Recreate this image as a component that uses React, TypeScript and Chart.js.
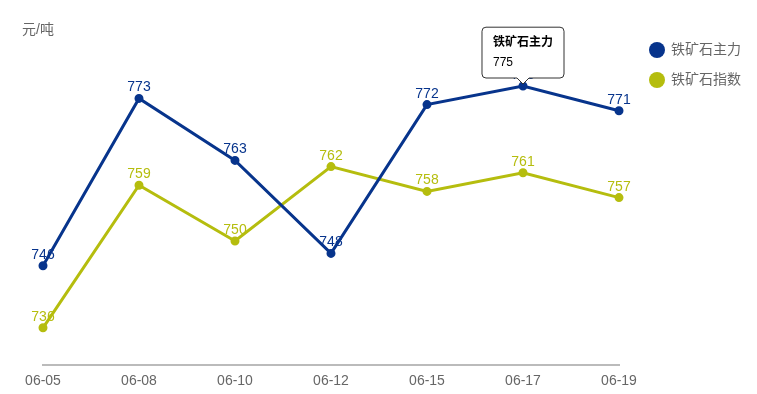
import React, { useEffect, useRef } from "react";
import { Chart, registerables } from "chart.js";

Chart.register(...registerables);

const categories = ["06-05", "06-08", "06-10", "06-12", "06-15", "06-17", "06-19"];
const mainSeries = [746, 773, 763, 748, 772, 775, 771];
const indexSeries = [736, 759, 750, 762, 758, 761, 757];
const seriesNames = ["铁矿石主力", "铁矿石指数"];
const seriesColors = ["#07348c", "#b5bd0e"];
const unitLabel = "元/吨";
const yMin = 730;
const yMax = 780;

const FONT = "'Liberation Sans', Arial, 'Noto Sans CJK SC', sans-serif";

const overlayPlugin = {
  id: "overlay",
  afterDatasetsDraw(chart: any) {
    const ctx = chart.ctx;
    ctx.save();
    chart.data.datasets.forEach((ds: any, di: number) => {
      const meta = chart.getDatasetMeta(di);
      ctx.font = `14px ${FONT}`;
      ctx.fillStyle = ds.borderColor;
      ctx.textAlign = "center";
      ctx.textBaseline = "alphabetic";
      meta.data.forEach((pt: any, i: number) => {
        ctx.fillText(String(ds.data[i]), pt.x, pt.y - 7);
      });
    });
    ctx.font = `14px ${FONT}`;
    ctx.fillStyle = "#666";
    ctx.textAlign = "left";
    ctx.textBaseline = "middle";
    ctx.fillText(unitLabel, 22, 30);
    chart.data.datasets.forEach((ds: any, di: number) => {
      const cy = 50 + di * 30;
      ctx.beginPath();
      ctx.fillStyle = ds.borderColor;
      ctx.arc(657, cy, 8, 0, Math.PI * 2);
      ctx.fill();
      ctx.fillStyle = "#666";
      ctx.font = `14px ${FONT}`;
      ctx.textAlign = "left";
      ctx.textBaseline = "middle";
      ctx.fillText(ds.label, 671, cy);
    });
    ctx.restore();
  },
};

export default function App() {
  const ref = useRef<HTMLCanvasElement | null>(null);
  useEffect(() => {
    document.body.style.margin = "0";
    const canvas = ref.current;
    if (!canvas) return;
    const chart = new Chart(canvas, {
      type: "line",
      data: {
        labels: categories,
        datasets: [
          {
            label: seriesNames[0],
            data: mainSeries,
            borderColor: seriesColors[0],
            backgroundColor: seriesColors[0],
            borderWidth: 3,
            pointRadius: 3,
            pointHoverRadius: 3,
            tension: 0,
          },
          {
            label: seriesNames[1],
            data: indexSeries,
            borderColor: seriesColors[1],
            backgroundColor: seriesColors[1],
            borderWidth: 3,
            pointRadius: 3,
            pointHoverRadius: 3,
            tension: 0,
          },
        ],
      },
      options: {
        animation: false,
        responsive: false,
        maintainAspectRatio: false,
        devicePixelRatio: 1,
        layout: { padding: { left: 43, right: 138, top: 55, bottom: 0 } },
        plugins: {
          legend: { display: false },
          tooltip: {
            enabled: true,
            backgroundColor: "#ffffff",
            borderColor: "#333333",
            borderWidth: 1,
            cornerRadius: 4,
            displayColors: false,
            titleColor: "#000000",
            bodyColor: "#000000",
            titleFont: { family: FONT, size: 12, weight: "bold" },
            bodyFont: { family: FONT, size: 12 },
            padding: { top: 8, bottom: 8, left: 11, right: 11 },
            caretSize: 6,
            caretPadding: 2,
            yAlign: "bottom",
            xAlign: "center",
            titleMarginBottom: 6,
            callbacks: {
              title: (items: any[]) => items[0].dataset.label,
              label: (item: any) => String(item.raw),
            },
          },
        },
        scales: {
          x: {
            offset: false,
            grid: { display: false, drawTicks: false },
            border: { display: true, color: "#bbbbbb", width: 2 },
            ticks: { color: "#666", font: { family: FONT, size: 14 }, padding: 8, maxRotation: 0, autoSkip: false },
            afterFit: (scale: any) => {
              scale.height = 29;
            },
          },
          y: {
            display: false,
            min: yMin,
            max: yMax,
          },
        },
      },
      plugins: [overlayPlugin],
    });
    chart.tooltip?.setActiveElements([{ datasetIndex: 0, index: 5 }], { x: 0, y: 0 });
    chart.update();
    return () => chart.destroy();
  }, []);
  return (
    <div style={{ width: 757, height: 394, position: "relative" }}>
      <canvas ref={ref} width={757} height={394} style={{ display: "block" }} />
    </div>
  );
}
